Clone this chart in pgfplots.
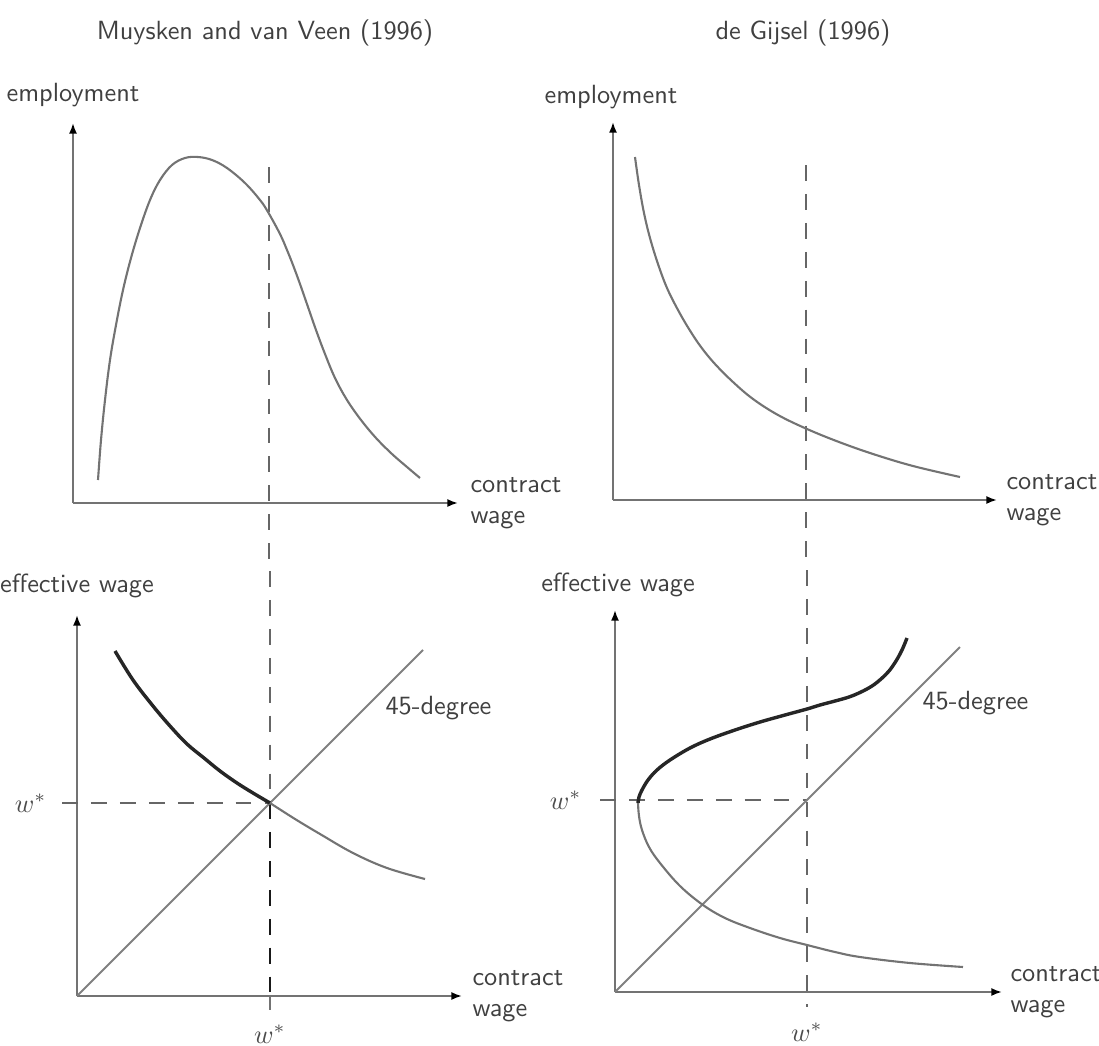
\documentclass[border=0pt]{standalone}
\usepackage{pgfplots}
\pgfplotsset{compat=1.18}
\usetikzlibrary{arrows.meta}

% one unit of data = 0.38pt, so every panel is drawn 1:1 in its own units
\tikzset{lab/.style={font=\sffamily, text=black!75, inner sep=0pt}}
\pgfplotsset{
  panel/.style={
    scale only axis, axis lines=left, clip=false,
    xmin=0, ymin=0, xtick=\empty, ytick=\empty,
    axis line style={draw=black!55, line width=0.7pt,
      -{Latex[length=4pt,width=3pt,color=black]}},
  },
  curve/.style={draw=black!55, line width=0.8pt, no markers},
  bold curve/.style={draw=black!85, line width=1.3pt, no markers},
  guide/.style={draw=black!60, line width=0.6pt, dash pattern=on 6pt off 5pt, no markers},
}

\begin{document}
\begin{tikzpicture}
\path[use as bounding box, clip] (0pt,0pt) rectangle (417.62pt,397.1pt);

\node[lab] at (100.7pt,384.56pt) {Muysken and van Veen (1996)};
\node[lab] at (305.14pt,384.56pt) {de Gijsel (1996)};

% employment against contract wage: hump
\begin{axis}[panel, at={(27.74pt,205.96pt)}, anchor=south west,
  width=146.3pt, height=144.4pt, xmax=385, ymax=380]
\addplot[guide] coordinates {(196,336) (196,-67)};
\addplot[curve, smooth, tension=0.6] coordinates {
  (25,23) (28,63) (32,103) (37,143) (43,178) (50,213) (58,245) (67,275)
  (77,303) (87,323) (99,338) (112,345) (125,346) (139,343) (154,335)
  (172,320) (187,303) (195,291) (207,269) (214,253) (220,238) (227,219)
  (235,196) (243,173) (252,149) (262,125) (274,103) (288,83) (303,65)
  (319,49) (334,36) (347,25)};
\node[lab] at (axis cs:0,408) {employment};
\node[lab, anchor=west, align=left] at (axis cs:397,0) {contract\\wage};
\end{axis}

% employment against contract wage: falling
\begin{axis}[panel, at={(232.94pt,207.1pt)}, anchor=south west,
  width=145.92pt, height=143.64pt, xmax=384, ymax=378]
\addplot[guide] coordinates {(193,335) (193,-70)};
\addplot[curve, smooth, tension=0.6] coordinates {
  (22,343) (26,315) (31,287) (37,262) (45,236) (54,212) (65,190) (76,171)
  (88,153) (102,136) (120,118) (140,101) (165,85) (194,71) (226,58)
  (260,46) (300,34) (347,23)};
\node[lab] at (axis cs:-2,403) {employment};
\node[lab, anchor=west, align=left] at (axis cs:393,0) {contract\\wage};
\end{axis}

% effective wage against contract wage: single crossing
\begin{axis}[panel, at={(29.26pt,18.62pt)}, anchor=south west,
  width=146.3pt, height=144.78pt, xmax=385, ymax=381]
\addplot[guide] coordinates {(193,425) (193,193)};
\addplot[guide, draw=black!90] coordinates {(193,193) (193,0)};
\addplot[draw=black!55, line width=0.6pt] coordinates {(193,0) (193,-14)};
\addplot[guide] coordinates {(-15,193) (193,193)};
\addplot[draw=black!50, line width=0.7pt] coordinates {(0,0) (346,346)};
\addplot[bold curve, smooth, tension=0.6] coordinates {
  (38,345) (56,316) (76,290) (93,270) (110,252) (127,238) (143,225)
  (160,213) (176,203) (193,193)};
\addplot[curve, smooth, tension=0.6] coordinates {
  (193,193) (218,177) (243,162) (276,143) (310,128) (348,117)};
\node[lab, anchor=west] at (axis cs:308,288) {45-degree};
\node[lab, anchor=east, text=black!70] at (axis cs:-30,193) {$w^{*}$};
\node[lab, text=black!70] at (axis cs:193,-38) {$w^{*}$};
\node[lab] at (axis cs:0,410) {effective wage};
\node[lab, anchor=west, align=left] at (axis cs:395,0) {contract\\wage};
\end{axis}

% effective wage against contract wage: backward bend
\begin{axis}[panel, at={(233.7pt,20.14pt)}, anchor=south west,
  width=147.06pt, height=145.16pt, xmax=387, ymax=382]
\addplot[guide] coordinates {(192,422) (192,-15)};
\addplot[guide] coordinates {(-15,192) (192,192)};
\addplot[draw=black!50, line width=0.7pt] coordinates {(0,0) (345,345)};
\addplot[bold curve, smooth, tension=0.6] coordinates {
  (292,354) (287,342) (281,331) (274,321) (266,313) (257,306) (246,300)
  (234,295) (220,291) (205,287) (192,283) (170,277) (145,270) (120,262)
  (95,253) (75,244) (55,232) (42,222) (33,212) (27,202) (24,195) (23,189)};
\addplot[curve, smooth, tension=0.6] coordinates {
  (23,189) (24,176) (27,162) (34,145) (45,129) (65,106) (88,87) (110,74)
  (135,64) (165,54) (192,47) (220,40) (245,35) (295,29) (348,25)};
\node[lab, anchor=west] at (axis cs:307,289) {45-degree};
\node[lab, anchor=east, text=black!70] at (axis cs:-33,192) {$w^{*}$};
\node[lab, text=black!70] at (axis cs:192,-40) {$w^{*}$};
\node[lab] at (axis cs:3,407) {effective wage};
\node[lab, anchor=west, align=left] at (axis cs:395,0) {contract\\wage};
\end{axis}
\end{tikzpicture}
\end{document}
